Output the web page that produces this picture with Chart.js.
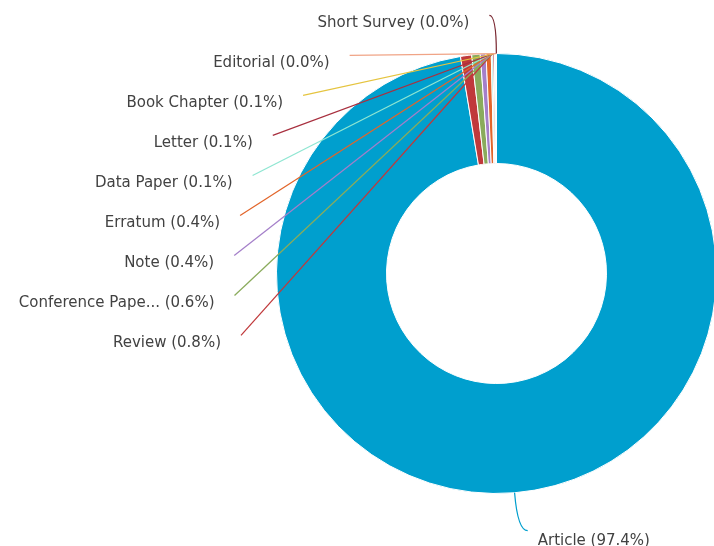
<!DOCTYPE html>
<html><head><meta charset="utf-8">
<script src="https://cdn.jsdelivr.net/npm/chart.js@4/dist/chart.umd.min.js"></script>
<style>
html,body{margin:0;padding:0;background:#fff;overflow:hidden}
#wrap{width:714px;height:546px;overflow:hidden;position:relative}
canvas{position:absolute;left:0;top:0}
</style>
</head><body>
<div id="wrap"><canvas id="c" width="740" height="546" style="width:740px;height:546px"></canvas></div>
<script>
const categories = ['Article','Review','Conference Paper','Note','Erratum','Data Paper','Letter','Book Chapter','Editorial','Short Survey'];
const shares = [97.38, 0.82, 0.62, 0.42, 0.38, 0.12, 0.11, 0.09, 0.04, 0.02];
const sliceColors = ['#009fce','#c0393b','#8aab5c','#a47fc9','#e2652a','#8fe6d2','#a8303f','#e5c43f','#f0a486','#7b2a33'];

const outLabels = {
  id: 'outLabels',
  afterDatasetsDraw(chart) {
    const ctx = chart.ctx;
    const meta = chart.getDatasetMeta(0);
    const data = chart.data.datasets[0].data;
    const total = data.reduce((a, b) => a + b, 0);
    const items = meta.data.map((arc, i) => {
      const p = arc.getProps(['x','y','startAngle','endAngle','outerRadius'], true);
      const mid = (p.startAngle + p.endAngle) / 2;
      const R = p.outerRadius;
      const Rn = R * 1.173;
      return {i, p, mid, R, cx: p.x, cy: p.y,
        nx: p.x + Rn * Math.cos(mid), ny: p.y + Rn * Math.sin(mid)};
    });
    const left = items.filter(it => Math.cos(it.mid) < 0);
    left.sort((a, b) => a.ny - b.ny);
    let prev = -Infinity;
    left.forEach(it => {
      let y = Math.max(it.ny, prev + 40);
      it.pushed = y > it.ny + 1;
      it.ey = y; prev = y;
      if (it.pushed) {
        const Rp = it.R * 1.195;
        const dy = y - it.cy;
        it.ex = it.cx - Math.sqrt(Math.max(Rp*Rp - dy*dy, 0));
      } else {
        it.ex = it.nx - 7;
      }
      it.side = -1;
    });
    items.forEach(it => { if (it.side === undefined) { it.side = 1; it.pushed = false; it.ex = it.nx + 10; it.ey = it.ny; } });

    ctx.save();
    ctx.lineWidth = 1.25;
    items.forEach(it => {
      const col = sliceColors[it.i];
      let a = it.mid;
      if (it.pushed) a = Math.max(a, Math.PI * 1.5 - 0.018);
      const sx = it.cx + it.R * Math.cos(a), sy = it.cy + it.R * Math.sin(a);
      ctx.strokeStyle = col;
      ctx.beginPath();
      ctx.moveTo(sx, sy);
      if (it.pushed) {
        ctx.lineTo(it.ex, it.ey);
      } else {
        ctx.quadraticCurveTo(it.nx, it.ny, it.ex, it.ey);
      }
      ctx.stroke();
    });
    ctx.fillStyle = '#424242';
    ctx.font = '15px "DejaVu Sans", sans-serif';
    ctx.textBaseline = 'middle';
    items.forEach(it => {
      let name = categories[it.i];
      if (name.length > 15) name = name.slice(0, 15) + '...';
      const pct = (data[it.i] / total * 100).toFixed(1);
      const txt = name + ' (' + pct + '%)';
      if (it.side < 0) {
        ctx.textAlign = 'right';
        ctx.fillText(txt, it.ex - 20, it.ey + 8);
      } else {
        ctx.textAlign = 'left';
        ctx.fillText(txt, it.ex + 10, it.ey + 10);
      }
    });
    ctx.restore();
  }
};

new Chart(document.getElementById('c'), {
  type: 'doughnut',
  data: {
    labels: categories,
    datasets: [{
      data: shares,
      backgroundColor: sliceColors,
      borderColor: '#ffffff',
      borderWidth: 1,
      hoverOffset: 0
    }]
  },
  options: {
    responsive: false,
    animation: false,
    cutout: '50%',
    layout: { padding: { left: 276, right: 23, top: 53, bottom: 52 } },
    plugins: { legend: { display: false }, tooltip: { enabled: false } }
  },
  plugins: [outLabels]
});
</script>
</body></html>
